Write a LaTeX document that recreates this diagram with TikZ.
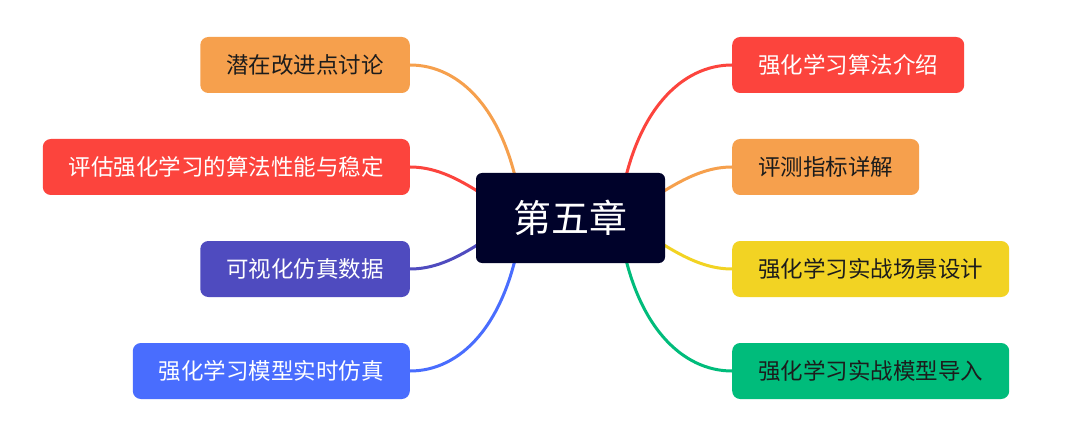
\documentclass[tikz,border=0pt]{standalone}
\usepackage{fontspec}
\newfontfamily\cjk{Noto Sans CJK SC}
\usetikzlibrary{backgrounds}
\definecolor{mmnavy}{HTML}{00022A}
\definecolor{mmorange}{HTML}{F6A04D}
\definecolor{mmred}{HTML}{FC443D}
\definecolor{mmpurple}{HTML}{4F4BBF}
\definecolor{mmblue}{HTML}{496DFE}
\definecolor{mmyellow}{HTML}{F2D323}
\definecolor{mmgreen}{HTML}{00BC7B}
\definecolor{mmtext}{HTML}{1C1C1C}

\begin{document}
\begin{tikzpicture}[x=1pt,y=-1pt,
  root/.style={fill=mmnavy,rounded corners=6pt,minimum width=189pt,minimum height=90pt,text=white,font=\cjk\fontsize{38}{44}\selectfont},
  topic/.style={rounded corners=8pt,minimum height=56pt,inner xsep=26pt,font=\cjk\fontsize{22.5}{27}\selectfont},
  branch/.style={line width=3pt}
]
\useasboundingbox (0,0) rectangle (1080,441);
\node[root] (ch5) at (570.5,218) {第五章};
\node[topic,fill=mmorange,text=mmtext,anchor=east] (discuss) at (410,65) {潜在改进点讨论};
\node[topic,fill=mmred,text=white,anchor=east] (evaluate) at (410,167) {评估强化学习的算法性能与稳定};
\node[topic,fill=mmpurple,text=white,anchor=east] (visual) at (410,269) {可视化仿真数据};
\node[topic,fill=mmblue,text=white,anchor=east] (realtime) at (410,371) {强化学习模型实时仿真};
\node[topic,fill=mmred,text=white,anchor=west] (algo) at (732,65) {强化学习算法介绍};
\node[topic,fill=mmorange,text=mmtext,anchor=west] (metric) at (732,167) {评测指标详解};
\node[topic,fill=mmyellow,text=mmtext,anchor=west] (scene) at (732,269) {强化学习实战场景设计};
\node[topic,fill=mmgreen,text=mmtext,anchor=west] (import) at (732,371) {强化学习实战模型导入};
\begin{pgfonlayer}{background}
\fill[white] (0,0) rectangle (1080,441);
\draw[branch,mmorange] ([shift={(-50,-15)}]ch5.center) .. controls +(-15,-93) and +(50,0) .. (discuss.east);
\draw[branch,mmred] ([shift={(-50,0)}]ch5.center) .. controls +(-40,-23) and +(40,0) .. (evaluate.east);
\draw[branch,mmpurple] ([shift={(-50,0)}]ch5.center) .. controls +(-40,23) and +(40,0) .. (visual.east);
\draw[branch,mmblue] ([shift={(-50,15)}]ch5.center) .. controls +(-15,93) and +(50,0) .. (realtime.east);
\draw[branch,mmred] ([shift={(50,-15)}]ch5.center) .. controls +(15,-93) and +(-50,0) .. (algo.west);
\draw[branch,mmorange] ([shift={(50,0)}]ch5.center) .. controls +(40,-23) and +(-40,0) .. (metric.west);
\draw[branch,mmyellow] ([shift={(50,0)}]ch5.center) .. controls +(40,23) and +(-40,0) .. (scene.west);
\draw[branch,mmgreen] ([shift={(50,15)}]ch5.center) .. controls +(15,93) and +(-50,0) .. (import.west);
\end{pgfonlayer}
\end{tikzpicture}
\end{document}
